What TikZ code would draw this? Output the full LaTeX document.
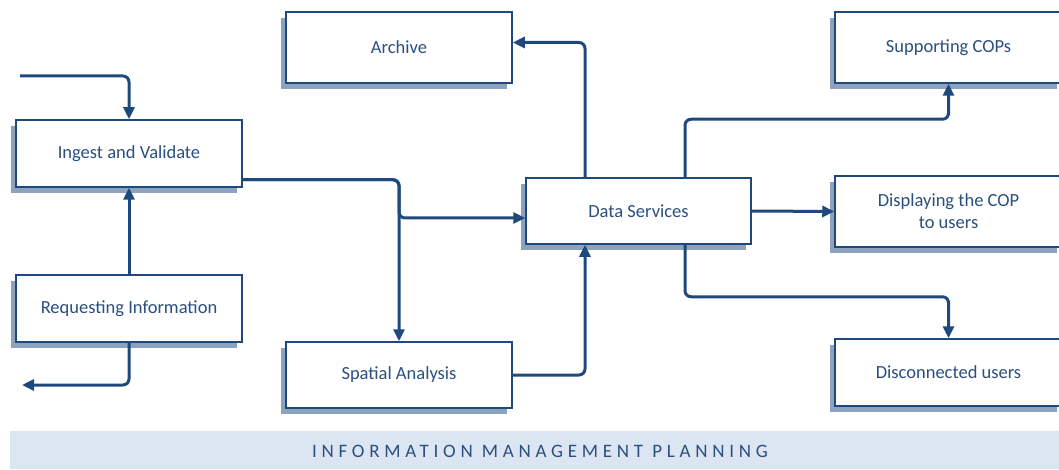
\documentclass[tikz,border=0pt]{standalone}
\usepackage{fontspec}
\setmainfont{Carlito}
\newfontfamily\spacedfont[LetterSpace=25]{Carlito}
\usetikzlibrary{arrows.meta,shadows,calc}
\definecolor{linec}{HTML}{1F497D}
\definecolor{textc}{HTML}{2A4F80}
\definecolor{shadowc}{HTML}{8DA2BD}
\definecolor{bannerc}{HTML}{DCE6F2}
\tikzset{
  procbox/.style={draw=linec, line width=1.5pt, fill=white, inner sep=0pt,
    minimum width=226pt, minimum height=67pt, text=textc, font=\fontsize{18.5}{22}\selectfont,
    align=center,
    general shadow={fill=shadowc, shadow xshift=-5pt, shadow yshift=-6pt}},
  conn/.style={draw=linec, line width=3pt, rounded corners=6pt,
    -{Triangle[length=12pt,width=11pt]}}
}
\begin{document}
\begin{tikzpicture}[x=1pt,y=-1pt]
\useasboundingbox (0,0) rectangle (1059,470);
% banner
\node[fill=bannerc, minimum width=1049pt, minimum height=38pt, inner sep=0pt, anchor=north west] (banner) at (10,431) {};
\node[text=textc, font=\spacedfont\fontsize{19}{22}\selectfont] (bannertext) at (540,451.5) {INFORMATION MANAGEMENT PLANNING};
% boxes
\node[procbox] (ingest) at (129,153.5) {Ingest and Validate};
\node[procbox] (request) at (129,308.5) {Requesting Information};
\node[procbox, minimum height=71pt] (archive) at (399,47.5) {Archive};
\node[procbox, minimum width=225pt, minimum height=66pt] (ds) at (638.5,211) {Data Services};
\node[procbox, minimum height=66pt] (spatial) at (399,375) {Spatial Analysis};
\node[procbox, minimum width=227pt, minimum height=71pt] (cops) at (948.5,47.5) {Supporting COPs};
\node[procbox, minimum width=227pt, minimum height=71pt] (disp) at (948.5,211.5) {Displaying the COP\\to users};
\node[procbox, minimum width=227pt] (disc) at (948.5,372.5) {Disconnected users};
% connectors
\coordinate (in) at (20,76);
\coordinate (out) at (22,385);
\draw[conn] (in) -| (ingest.north);
\draw[conn] (request.north) -- (ingest.south);
\draw[conn] (request.south) |- (out);
\draw[conn] ([yshift=8pt]ingest.south east) -| (399,218) -- ([yshift=-7pt]ds.west);
\draw[conn] ([yshift=8pt]ingest.south east) -| (spatial.north);
\draw[conn] (spatial.east) -| ([xshift=-53.5pt]ds.south);
\draw[conn] ([xshift=-53.5pt]ds.north) |- ([yshift=5pt]archive.east);
\draw[conn] ([xshift=46.5pt]ds.north) -- ++(0,-58) -| (cops.south);
\draw[conn] (ds.east) -- (disp.west);
\draw[conn] ([xshift=46.5pt]ds.south) -- ++(0,52) -| (disc.north);
\end{tikzpicture}
\end{document}
